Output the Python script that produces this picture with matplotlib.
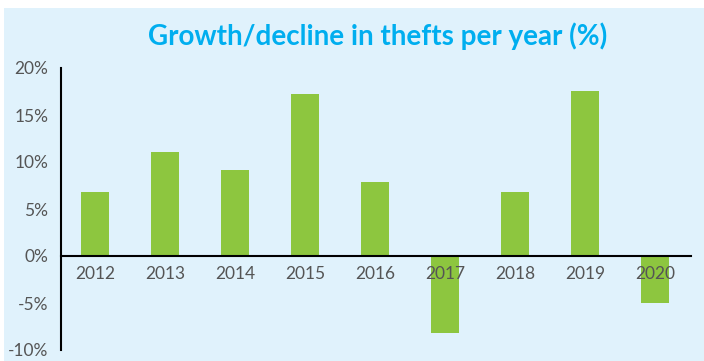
import matplotlib
matplotlib.use("Agg")
import matplotlib.pyplot as plt
from matplotlib.patches import Rectangle
from matplotlib.ticker import FuncFormatter

# Year-on-year change in thefts (%)
years = ["2012", "2013", "2014", "2015", "2016", "2017", "2018", "2019", "2020"]
growth = [6.8, 11.1, 9.2, 17.2, 7.9, -8.2, 6.8, 17.6, -5.0]
y_ticks = [-10, -5, 0, 5, 10, 15, 20]

BG = "#E0F2FC"
BAR = "#8DC63F"
TITLE = "#00AEEF"
TEXT = "#555555"

plt.rcParams["font.family"] = ["Lato", "DejaVu Sans"]

fig = plt.figure(figsize=(7.04, 3.61), dpi=100, facecolor="white")
# light blue panel behind everything, leaving a thin white edge top/left
fig.patches.append(Rectangle((4 / 704, 0), 1, 1 - 8 / 361,
                             transform=fig.transFigure, facecolor=BG,
                             edgecolor="none", zorder=-10))

ax = fig.add_axes([61 / 704, 1 - 350 / 361, 630 / 704, 282 / 361])
ax.set_facecolor("none")

x = list(range(len(years)))
ax.bar(x, growth, width=0.4, color=BAR, zorder=1)

ax.set_xlim(-0.486, 8.51)
ax.set_ylim(-10, 20)
ax.set_yticks(y_ticks)
ax.yaxis.set_major_formatter(FuncFormatter(lambda v, _: f"{v:.0f}%"))
ax.set_xticks(x)
ax.set_xticklabels(years)

for side in ("top", "right"):
    ax.spines[side].set_visible(False)
ax.spines["bottom"].set_position(("data", 0))
ax.spines["bottom"].set_linewidth(1.5)
ax.spines["left"].set_linewidth(1.5)

ax.tick_params(axis="x", length=0, pad=7.5, labelsize=12.5, labelcolor=TEXT)
ax.tick_params(axis="y", length=0, pad=9, labelsize=12.5, labelcolor=TEXT)

fig.text(0.537, 1 - 36 / 361, "Growth/decline in thefts per year (%)",
         ha="center", va="center", fontsize=20, fontweight="bold", color=TITLE)

fig.savefig("out.png", dpi=100, facecolor=fig.get_facecolor())
